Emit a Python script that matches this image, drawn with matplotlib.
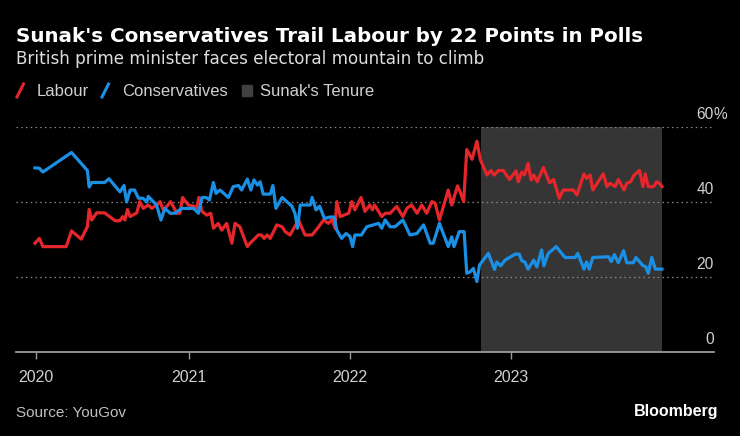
import matplotlib.pyplot as plt
import matplotlib.transforms as mtransforms
import pandas as pd
from matplotlib.lines import Line2D
from matplotlib.patches import Rectangle

# YouGov voting intention, %
lab_dates = [
    '2020-01-17', '2020-01-27', '2020-02-04', '2020-03-28', '2020-04-09', '2020-05-01',
    '2020-05-15', '2020-05-19', '2020-05-25', '2020-06-05', '2020-06-23', '2020-07-17',
    '2020-07-28', '2020-08-03', '2020-08-08', '2020-08-14', '2020-08-20', '2020-09-04',
    '2020-09-11', '2020-09-19', '2020-09-30', '2020-10-08', '2020-10-19', '2020-10-27',
    '2020-11-03', '2020-11-11', '2020-11-20', '2020-12-04', '2020-12-11', '2020-12-17',
    '2020-12-30', '2021-01-11', '2021-01-18', '2021-01-23', '2021-01-30', '2021-02-10',
    '2021-02-19', '2021-02-25', '2021-03-08', '2021-03-16', '2021-03-27', '2021-04-08',
    '2021-04-15', '2021-04-26', '2021-05-13', '2021-05-19', '2021-05-27', '2021-06-07',
    '2021-06-14', '2021-06-20', '2021-06-27', '2021-07-04', '2021-07-19', '2021-07-31',
    '2021-08-07', '2021-08-18', '2021-09-06', '2021-09-21', '2021-10-07', '2021-10-22',
    '2021-11-02', '2021-11-13', '2021-11-21', '2021-11-28', '2021-12-02', '2021-12-10',
    '2021-12-29', '2022-01-05', '2022-01-12', '2022-01-26', '2022-02-04', '2022-02-15',
    '2022-02-21', '2022-02-26', '2022-03-14', '2022-03-22', '2022-04-02', '2022-04-17',
    '2022-05-01', '2022-05-10', '2022-05-21', '2022-06-02', '2022-06-13', '2022-06-24',
    '2022-07-06', '2022-07-13', '2022-07-23', '2022-08-12', '2022-08-20', '2022-09-02',
    '2022-09-08', '2022-09-16', '2022-09-23', '2022-10-05', '2022-10-16', '2022-10-24',
    '2022-11-08', '2022-11-17', '2022-11-24', '2022-12-04', '2022-12-15', '2022-12-29',
    '2023-01-13', '2023-01-18', '2023-01-26', '2023-02-01', '2023-02-09', '2023-02-16',
    '2023-02-22', '2023-03-02', '2023-03-16', '2023-03-30', '2023-04-08', '2023-04-21',
    '2023-04-30', '2023-05-23', '2023-05-31', '2023-06-16', '2023-06-22', '2023-06-30',
    '2023-07-06', '2023-07-30', '2023-08-07', '2023-08-14', '2023-08-26', '2023-09-02',
    '2023-09-15', '2023-09-21', '2023-09-30', '2023-10-08', '2023-10-20', '2023-10-28',
    '2023-11-02', '2023-11-09', '2023-11-21', '2023-11-28', '2023-12-04', '2023-12-10',
]
lab_vals = [
    29.0, 30.3, 28.1, 28.1, 32.3, 30.1,
    33.4, 38.0, 35.2, 37.1, 37.1, 35.0,
    35.0, 36.1, 35.2, 38.0, 36.1, 37.1,
    40.1, 38.3, 39.2, 38.3, 39.2, 40.1,
    37.9, 38.8, 40.1, 37.0, 37.0, 41.2,
    39.2, 38.9, 38.3, 41.2, 37.5, 36.5,
    37.0, 33.0, 34.3, 32.5, 34.3, 29.0,
    34.3, 33.4, 28.1, 29.0, 29.9, 31.2,
    31.2, 30.3, 31.2, 30.3, 33.9, 33.4,
    32.1, 31.2, 35.2, 31.2, 31.2, 33.4,
    35.2, 34.3, 35.4, 33.0, 40.1, 36.1,
    37.0, 40.1, 37.9, 41.2, 37.5, 39.2,
    37.9, 39.2, 36.1, 37.0, 37.0, 38.8,
    36.1, 38.3, 39.2, 37.0, 39.2, 37.0,
    40.1, 39.7, 35.2, 43.2, 39.2, 44.3,
    42.7, 40.1, 54.0, 51.4, 56.2, 51.2,
    47.2, 48.4, 47.2, 48.4, 48.4, 46.0,
    48.3, 45.4, 48.0, 47.2, 50.3, 45.9,
    47.2, 45.4, 49.2, 45.1, 46.0, 41.0,
    43.2, 43.2, 41.9, 47.5, 46.3, 47.2,
    43.2, 47.5, 44.1, 45.0, 44.1, 46.0,
    43.2, 45.0, 45.4, 47.2, 48.4, 44.1,
    47.5, 44.1, 44.1, 45.4, 45.0, 44.1,
]

con_dates = [
    '2020-01-17', '2020-01-27', '2020-02-04', '2020-04-09', '2020-05-15', '2020-05-19',
    '2020-05-25', '2020-06-23', '2020-07-03', '2020-07-28', '2020-08-06', '2020-08-12',
    '2020-08-20', '2020-08-30', '2020-09-08', '2020-09-18', '2020-09-27', '2020-09-30',
    '2020-10-19', '2020-10-29', '2020-11-07', '2020-11-19', '2020-11-30', '2020-12-15',
    '2021-01-11', '2021-01-22', '2021-01-30', '2021-02-09', '2021-02-16', '2021-02-25',
    '2021-03-03', '2021-03-12', '2021-03-31', '2021-04-11', '2021-04-23', '2021-04-30',
    '2021-05-13', '2021-05-21', '2021-05-28', '2021-06-05', '2021-06-11', '2021-06-18',
    '2021-07-04', '2021-07-10', '2021-07-17', '2021-07-31', '2021-08-22', '2021-08-29',
    '2021-09-04', '2021-09-10', '2021-10-03', '2021-10-07', '2021-10-16', '2021-10-24',
    '2021-11-04', '2021-11-17', '2021-11-26', '2021-12-02', '2021-12-13', '2021-12-23',
    '2022-01-01', '2022-01-07', '2022-01-12', '2022-01-27', '2022-02-08', '2022-02-23',
    '2022-03-07', '2022-03-14', '2022-03-22', '2022-04-02', '2022-04-13', '2022-05-01',
    '2022-05-17', '2022-06-02', '2022-06-17', '2022-07-02', '2022-07-09', '2022-07-23',
    '2022-08-12', '2022-08-20', '2022-08-25', '2022-09-06', '2022-09-17', '2022-09-23',
    '2022-10-01', '2022-10-08', '2022-10-16', '2022-10-22', '2022-11-11', '2022-11-25',
    '2022-11-30', '2022-12-09', '2022-12-19', '2023-01-11', '2023-01-20', '2023-01-26',
    '2023-02-02', '2023-02-09', '2023-02-22', '2023-03-01', '2023-03-12', '2023-03-17',
    '2023-03-27', '2023-04-14', '2023-05-04', '2023-05-27', '2023-06-02', '2023-06-16',
    '2023-06-22', '2023-06-28', '2023-07-06', '2023-08-11', '2023-08-17', '2023-08-24',
    '2023-09-02', '2023-09-14', '2023-09-21', '2023-10-06', '2023-10-12', '2023-10-28',
    '2023-11-03', '2023-11-09', '2023-11-17', '2023-11-25', '2023-12-10',
]
con_vals = [
    49.1, 49.0, 48.0, 53.2, 48.4, 44.0,
    45.2, 45.2, 46.2, 42.7, 44.4, 40.0,
    43.2, 43.2, 41.0, 41.0, 40.0, 41.5,
    39.2, 35.2, 38.3, 37.0, 37.0, 38.3,
    38.3, 37.0, 41.2, 41.2, 40.5, 45.2,
    42.3, 43.2, 41.2, 44.1, 44.4, 43.2,
    46.1, 43.2, 45.9, 44.5, 45.4, 42.1,
    42.1, 44.4, 38.3, 41.2, 38.9, 37.0,
    33.0, 39.2, 39.2, 41.2, 37.9, 38.9,
    35.6, 36.0, 36.0, 32.5, 30.3, 31.6,
    30.8, 28.1, 31.2, 31.2, 33.4, 33.9,
    34.3, 33.0, 35.2, 33.4, 33.4, 35.2,
    31.2, 31.6, 33.9, 29.0, 29.0, 34.3,
    28.1, 30.7, 28.1, 32.1, 32.1, 21.0,
    21.4, 22.3, 18.8, 23.2, 26.3, 22.0,
    24.0, 23.0, 24.5, 26.1, 26.1, 24.3,
    24.0, 22.1, 24.5, 22.7, 27.2, 23.0,
    26.3, 28.1, 25.2, 25.2, 26.3, 22.1,
    24.0, 22.1, 25.2, 25.4, 24.1, 26.0,
    23.8, 27.0, 23.8, 23.8, 25.2, 23.0,
    22.8, 21.0, 25.2, 22.1, 22.1,
]

tenure = ('2022-10-25', '2023-12-10')
y_ticks = [0, 20, 40, 60]
year_ticks = ['2020-01-19', '2021-01-01', '2022-01-01', '2023-01-01']
year_labels = ['2020', '2021', '2022', '2023']

RED = '#e5262a'
BLUE = '#1b8fe4'
SHADE = '#353535'
FONT = 'Liberation Sans'
HEAD = 'DejaVu Sans'

W, H = 740, 436


def fx(px):
    return px / W


def fy(py):
    return 1 - py / H


fig = plt.figure(figsize=(W / 100, H / 100), dpi=100, facecolor='black')
ax = fig.add_axes([fx(16), fy(352), fx(713.5) - fx(16), fy(127) - fy(352)])
ax.set_facecolor('black')

ax.axvspan(pd.Timestamp(tenure[0]), pd.Timestamp(tenure[1]), color=SHADE, lw=0, zorder=0)

for v in y_ticks[1:]:
    ax.axhline(v, color='#8a8a8a', lw=0.9, ls=(0, (1.2, 2.6)), zorder=1)
ax.axhline(0, color='#9a9a9a', lw=1.3, zorder=1, clip_on=False)

ax.plot(pd.to_datetime(lab_dates), lab_vals, color=RED, lw=2.3, zorder=3)
ax.plot(pd.to_datetime(con_dates), con_vals, color=BLUE, lw=2.3, zorder=3)

ax.set_xlim(pd.Timestamp('2019-12-05'), pd.Timestamp('2024-04-05'))
ax.set_ylim(0, 60)
for s in ax.spines.values():
    s.set_visible(False)

ax.set_yticks([])
ax.set_xticks(pd.to_datetime(year_ticks))
ax.set_xticklabels(year_labels, fontfamily=FONT)
ax.tick_params(axis='x', direction='out', length=5, width=1, color='#9a9a9a',
               labelcolor='#d0d0d0', labelsize=11.5, pad=8)

# value labels sit above each gridline on the right
trans = mtransforms.blended_transform_factory(ax.transAxes, ax.transData)
for v in y_ticks:
    ax.annotate(str(v), xy=(1.0, v), xycoords=trans, xytext=(0, 8),
                textcoords='offset pixels', ha='right', va='baseline',
                color='#d0d0d0', fontsize=11.2, fontfamily=FONT)
ax.annotate('%', xy=(1.0, 60), xycoords=trans, xytext=(0, 8),
            textcoords='offset pixels', ha='left', va='baseline',
            color='#d0d0d0', fontsize=11.2, fontfamily=FONT)

fig.text(fx(16), fy(42), "Sunak's Conservatives Trail Labour by 22 Points in Polls",
         color='white', fontsize=14.3, fontweight='bold', fontfamily=HEAD, va='baseline')
fig.text(fx(16), fy(64.5), 'British prime minister faces electoral mountain to climb',
         color='#dddddd', fontsize=12.1, fontfamily=HEAD, va='baseline')

# legend
fig.add_artist(Line2D([fx(17), fx(23.5)], [fy(97), fy(84)], color=RED, lw=2.2))
fig.text(fx(37), fy(96), 'Labour', color='#d0d0d0', fontsize=12, fontfamily=FONT, va='baseline')
fig.add_artist(Line2D([fx(102), fx(108.5)], [fy(97), fy(84)], color=BLUE, lw=2.2))
fig.text(fx(122), fy(96), 'Conservatives', color='#d0d0d0', fontsize=12, fontfamily=FONT, va='baseline')
fig.add_artist(Rectangle((fx(242), fy(96)), 10 / W, 11 / H, color='#404040',
                         transform=fig.transFigure))
fig.text(fx(260), fy(96), "Sunak's Tenure", color='#d0d0d0', fontsize=12, fontfamily=FONT, va='baseline')

fig.text(fx(16), fy(417), 'Source: YouGov', color='#c0c0c0', fontsize=11, fontfamily=FONT, va='baseline')
fig.text(fx(718), fy(416), 'Bloomberg', color='white', fontsize=11.5, fontweight='bold',
         fontfamily=FONT, va='baseline', ha='right')

fig.savefig('out.png', dpi=100, facecolor='black')
